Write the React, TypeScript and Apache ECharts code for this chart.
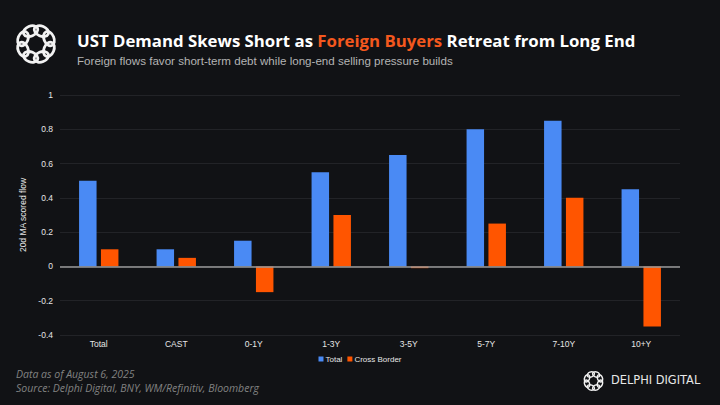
import React, { useEffect, useRef } from "react";
import * as echarts from "echarts";

const categories = ["Total", "CAST", "0-1Y", "1-3Y", "3-5Y", "5-7Y", "7-10Y", "10+Y"];
const totalFlow = [0.5, 0.1, 0.15, 0.55, 0.65, 0.8, 0.85, 0.45];
const crossBorderFlow = [0.1, 0.05, -0.15, 0.3, -0.01, 0.25, 0.4, -0.35];
const seriesNames = ["Total", "Cross Border"];

const BG = "#111215";
const BLUE = "#4A8AF4";
const ORANGE = "#FF5500";

// knot-like logo: 8 interlocking loops laid around a ring
function logoLoops(cx: number, cy: number, s: number) {
  const out: any[] = [];
  for (let i = 0; i < 8; i++) {
    const a = (i / 8) * Math.PI * 2 + Math.PI / 8;
    out.push({
      type: "ellipse",
      x: cx + Math.cos(a) * 14 * s,
      y: cy + Math.sin(a) * 14 * s,
      rotation: -a,
      shape: { cx: 0, cy: 0, rx: 5 * s, ry: 7.5 * s },
      style: { fill: "none", stroke: "#f2f2f2", lineWidth: 2.8 * s },
      silent: true,
    });
  }
  return out;
}

export default function App() {
  const chartRef = useRef<HTMLDivElement>(null);

  useEffect(() => {
    document.body.style.margin = "0";
    document.body.style.background = BG;
    if (!chartRef.current) return;
    const chart = echarts.init(chartRef.current, undefined, { renderer: "svg" });

    const option: echarts.EChartsOption = {
      animation: false,
      backgroundColor: BG,
      title: {
        left: 72,
        top: 27,
        text: "{w|UST Demand Skews Short as }{o|Foreign Buyers}{w| Retreat from Long End}",
        textStyle: {
          rich: {
            w: { color: "#ffffff", fontSize: 16.8, fontWeight: "bold", fontFamily: "Open Sans" },
            o: { color: "#F4581E", fontSize: 16.8, fontWeight: "bold", fontFamily: "Open Sans" },
          },
        },
        subtext: "Foreign flows favor short-term debt while long-end selling pressure builds",
        subtextStyle: { color: "#b4b4b4", fontSize: 11.6, fontFamily: "Liberation Sans" },
        itemGap: 5,
      },
      legend: {
        top: 350,
        left: "center",
        icon: "rect",
        itemWidth: 5,
        itemHeight: 5,
        itemGap: 5,
        textStyle: { color: "#e6e6e6", fontSize: 8, fontFamily: "Liberation Sans", padding: [0, 0, 0, -3] },
        data: seriesNames,
      },
      grid: { left: 60, right: 40, top: 95, bottom: 70 },
      xAxis: {
        type: "category",
        data: categories,
        axisLine: { show: false, onZero: false },
        axisTick: { show: false },
        axisLabel: { color: "#e6e6e6", fontSize: 8.5, fontFamily: "Liberation Sans", margin: 4 },
      },
      yAxis: {
        type: "value",
        min: -0.4,
        max: 1,
        interval: 0.2,
        name: "20d MA scored flow",
        nameLocation: "middle",
        nameGap: 25,
        nameTextStyle: { color: "#e6e6e6", fontSize: 8.5, fontFamily: "Liberation Sans" },
        axisLine: { show: false },
        axisTick: { show: false },
        axisLabel: { color: "#e6e6e6", fontSize: 8.5, fontFamily: "Liberation Sans", margin: 7 },
        splitLine: { lineStyle: { color: "#222327", width: 1 } },
      },
      series: [
        {
          name: seriesNames[0],
          type: "bar",
          data: totalFlow,
          barWidth: 17.5,
          barGap: "25%",
          itemStyle: { color: BLUE },
          markLine: {
            silent: true,
            symbol: "none",
            label: { show: false },
            lineStyle: { color: "#9a9a9a", width: 1.5, type: "solid" },
            data: [{ yAxis: 0 }],
          },
        },
        {
          name: seriesNames[1],
          type: "bar",
          data: crossBorderFlow,
          barWidth: 17.5,
          itemStyle: { color: ORANGE },
        },
      ],
      graphic: [
        ...logoLoops(36, 44, 1),
        {
          type: "text",
          left: 16,
          top: 368,
          style: {
            text: "Data as of August 6, 2025",
            fill: "#828282",
            font: "italic 10.5px 'Open Sans'",
          },
        },
        {
          type: "text",
          left: 16,
          top: 382,
          style: {
            text: "Source: Delphi Digital, BNY, WM/Refinitiv, Bloomberg",
            fill: "#828282",
            font: "italic 10.5px 'Open Sans'",
          },
        },
        ...logoLoops(593.5, 381, 0.5),
        {
          type: "text",
          left: 611,
          top: 374,
          style: {
            text: "DELPHI DIGITAL",
            fill: "#e8e8e8",
            font: "11.4px 'DejaVu Sans'",
          },
        },
      ],
    };

    chart.setOption(option);
    return () => chart.dispose();
  }, []);

  return <div ref={chartRef} style={{ width: 720, height: 405 }} />;
}
